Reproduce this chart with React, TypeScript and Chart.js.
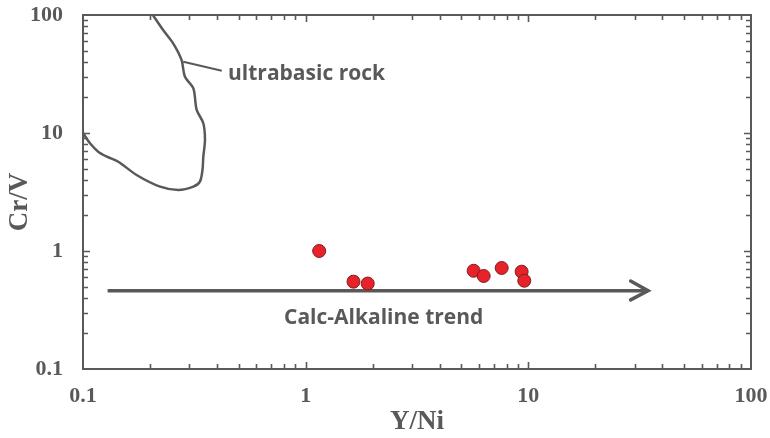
import React, { useEffect, useRef } from 'react';
import { Chart, registerables } from 'chart.js';

Chart.register(...registerables);

// Sample analyses (Y/Ni vs Cr/V)
const sampleYNi = [1.15, 1.64, 1.9, 5.68, 6.3, 7.59, 9.33, 9.59];
const sampleCrV = [1.0, 0.55, 0.53, 0.68, 0.614, 0.718, 0.668, 0.56];

// Ultrabasic rock field boundary
const ultrabasicYNi = [0.1, 0.1075, 0.117, 0.128, 0.144, 0.174, 0.222, 0.268, 0.313, 0.335, 0.344, 0.347, 0.353, 0.347, 0.324, 0.313, 0.287, 0.277, 0.254, 0.229, 0.206];
const ultrabasicCrV = [10.0, 8.18, 6.95, 6.3, 5.71, 4.41, 3.51, 3.29, 3.51, 3.87, 4.86, 6.3, 8.72, 12.1, 15.7, 23.9, 30.0, 41.6, 57.5, 74.6, 100];

// Leader line from the field to its label
const leaderYNi = [0.282, 0.42];
const leaderCrV = [40.2, 33.7];

// Calc-alkaline trend arrow
const trendYNi = [0.129, 34.5];
const trendCrV = [0.46, 0.46];
const arrowHeadYNi = [28.8, 34.5, 28.8];
const arrowHeadCrV = [0.557, 0.46, 0.385];

// Axis decades and their labels
const decadeValues = [0.1, 1, 10, 100];
const decadeLabels = ['0.1', '1', '10', '100'];

// Annotation texts and their anchors (data units)
const noteTexts = ['ultrabasic rock', 'Calc-Alkaline trend'];
const noteYNi = [0.448, 2.24];
const noteCrV = [31.6, 0.269];
const noteAlign: CanvasTextAlign[] = ['left', 'center'];

const yTitle = 'Cr/V';
const xTitle = 'Y/Ni';

const INK = '#595959';
const SERIF = '"Liberation Serif", "Times New Roman", serif';
const SANS = '"Open Sans", "Noto Sans", sans-serif';

const toPoints = (xs: number[], ys: number[]) => xs.map((x, i) => ({ x, y: ys[i] }));

// Minor/major positions: 1..9 x 10^k across the axis range
const logTickValues = (min: number, max: number) => {
  const out: { v: number; major: boolean }[] = [];
  const e0 = Math.floor(Math.log10(min));
  const e1 = Math.ceil(Math.log10(max));
  for (let e = e0; e <= e1; e++) {
    for (let m = 1; m <= 9; m++) {
      const v = m * Math.pow(10, e);
      if (v > min * 1.0001 && v < max * 0.9999) out.push({ v, major: m === 1 });
    }
  }
  return out;
};

const frameTicksPlugin = {
  id: 'frameTicks',
  afterDatasetsDraw(chart: any) {
    const { ctx, chartArea: a, scales } = chart;
    const xs = scales.x;
    const ys = scales.y;
    ctx.save();
    ctx.strokeStyle = INK;
    ctx.lineWidth = 1.6;
    const minorLen = 5;
    const majorLen = 7;
    ctx.beginPath();
    for (const t of logTickValues(xs.min, xs.max)) {
      const px = Math.round(xs.getPixelForValue(t.v)) + 0.5;
      const len = t.major ? majorLen : minorLen;
      ctx.moveTo(px, a.bottom);
      ctx.lineTo(px, a.bottom - len);
      ctx.moveTo(px, a.top);
      ctx.lineTo(px, a.top + len);
    }
    for (const t of logTickValues(ys.min, ys.max)) {
      const py = Math.round(ys.getPixelForValue(t.v)) + 0.5;
      const len = t.major ? majorLen : minorLen;
      ctx.moveTo(a.left, py);
      ctx.lineTo(a.left + len, py);
      ctx.moveTo(a.right, py);
      ctx.lineTo(a.right - len, py);
    }
    ctx.stroke();
    ctx.lineWidth = 2;
    ctx.strokeRect(a.left, a.top, a.right - a.left, a.bottom - a.top);

    ctx.fillStyle = INK;
    ctx.font = `700 21px ${SANS}`;
    ctx.textBaseline = 'middle';
    noteTexts.forEach((txt, i) => {
      ctx.textAlign = noteAlign[i];
      ctx.fillText(txt, xs.getPixelForValue(noteYNi[i]), ys.getPixelForValue(noteCrV[i]));
    });

    // vertical axis title, read bottom-to-top
    ctx.font = `bold 27px ${SERIF}`;
    ctx.textAlign = 'center';
    ctx.translate(20, (a.top + a.bottom) / 2 + 10);
    ctx.rotate(-Math.PI / 2);
    ctx.fillText(yTitle, 0, 0);
    ctx.restore();
  },
};

const tickFont = { family: SERIF, weight: 'bold' as const, size: 22 };
const titleFont = { family: SERIF, weight: 'bold' as const, size: 27 };

export default function App() {
  const canvasRef = useRef<HTMLCanvasElement | null>(null);

  useEffect(() => {
    const canvas = canvasRef.current;
    if (!canvas) return;
    const chart = new Chart(canvas, {
      type: 'scatter',
      data: {
        datasets: [
          {
            label: 'Samples',
            data: toPoints(sampleYNi, sampleCrV),
            backgroundColor: '#e8222a',
            borderColor: '#7d1f1f',
            borderWidth: 1,
            pointRadius: 6.5,
          },
          {
            label: 'Trend',
            data: toPoints(trendYNi, trendCrV),
            showLine: true,
            borderColor: INK,
            borderWidth: 3.5,
            pointRadius: 0,
          },
          {
            label: 'Arrow head',
            data: toPoints(arrowHeadYNi, arrowHeadCrV),
            showLine: true,
            borderColor: INK,
            borderWidth: 3.5,
            borderCapStyle: 'round',
            borderJoinStyle: 'miter',
            pointRadius: 0,
          },
          {
            label: 'Leader',
            data: toPoints(leaderYNi, leaderCrV),
            showLine: true,
            borderColor: INK,
            borderWidth: 2,
            pointRadius: 0,
          },
          {
            label: 'Ultrabasic rock',
            data: toPoints(ultrabasicYNi, ultrabasicCrV),
            showLine: true,
            borderColor: INK,
            borderWidth: 2.5,
            tension: 0.3,
            pointRadius: 0,
            clip: 4,
          },
        ],
      },
      options: {
        responsive: false,
        animation: false,
        events: [],
        layout: { padding: { top: 15, right: 19, left: 0, bottom: 0 } },
        plugins: { legend: { display: false }, tooltip: { enabled: false } },
        scales: {
          x: {
            type: 'logarithmic',
            position: 'bottom',
            min: 0.1,
            max: 100,
            grid: { display: false, drawTicks: true, tickLength: 14 },
            border: { display: false },
            afterBuildTicks: (s: any) => {
              s.ticks = decadeValues.map((v) => ({ value: v }));
            },
            ticks: {
              autoSkip: false,
              maxRotation: 0,
              padding: 0,
              color: INK,
              font: tickFont,
              callback: (_v: any, i: number) => decadeLabels[i],
            },
            title: { display: true, text: xTitle, color: INK, font: titleFont, padding: { top: 0, bottom: 0 } },
            afterFit: (s: any) => {
              s.height = 69;
            },
          },
          y: {
            type: 'logarithmic',
            position: 'left',
            min: 0.1,
            max: 100,
            grid: { display: false, drawTicks: true, tickLength: 20 },
            border: { display: false },
            afterBuildTicks: (s: any) => {
              s.ticks = decadeValues.map((v) => ({ value: v }));
            },
            ticks: {
              autoSkip: false,
              padding: 0,
              color: INK,
              font: tickFont,
              callback: (_v: any, i: number) => decadeLabels[i],
            },
            title: { display: false },
            afterFit: (s: any) => {
              s.width = 83;
            },
          },
        },
      },
      plugins: [frameTicksPlugin],
    } as any);
    return () => chart.destroy();
  }, []);

  return (
    <div style={{ position: 'absolute', left: 0, top: 0, width: 770, height: 438, background: '#fff' }}>
      <canvas ref={canvasRef} width={770} height={438} style={{ display: 'block' }} />
    </div>
  );
}
